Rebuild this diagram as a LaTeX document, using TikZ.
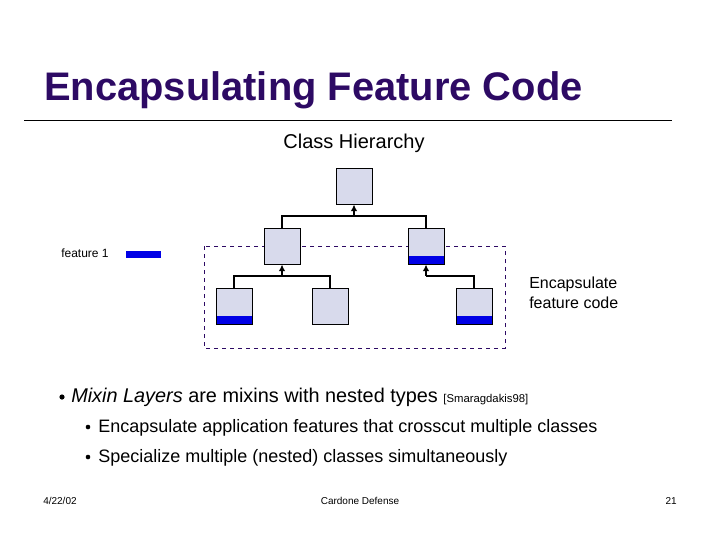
\documentclass[tikz,border=0pt]{standalone}
\usepackage{fontspec}
\setmainfont{Liberation Sans}
\usetikzlibrary{arrows.meta}
\definecolor{titlec}{RGB}{45,10,100}
\definecolor{boxc}{RGB}{216,218,236}
\definecolor{featc}{RGB}{0,0,230}
\begin{document}
\begin{tikzpicture}[x=0.75pt,y=-0.75pt,
  cls/.style={draw=black,fill=boxc,line width=0.75pt,minimum width=27pt,minimum height=27pt,inner sep=0pt},
  conn/.style={line width=2.2pt,-{Latex[length=5pt,width=5pt]}},
  txt/.style={inner sep=0pt,anchor=base west}]
\useasboundingbox (0,0) rectangle (720,540);
\node[txt,font=\fontsize{29.9}{34}\selectfont\bfseries,text=titlec] (title) at (44,100) {Encapsulating Feature Code};
\draw[line width=0.75pt] (24,120) -- (672,120);
\node[inner sep=0pt,anchor=base,font=\fontsize{15}{18}\selectfont] (ch) at (354,148) {Class Hierarchy};
% dashed layer
\draw[dashed,draw=titlec,line width=0.75pt] (204,246) rectangle (505,348);
% boxes
\node[cls] (top) at (354,186) {};
\node[cls] (ml) at (282,246) {};
\node[cls] (mr) at (426,246) {};
\node[cls] (b1) at (234,306) {};
\node[cls] (b2) at (330,306) {};
\node[cls] (b3) at (474,306) {};
\fill[featc] (408.5,256) rectangle (443.5,263.5);
\fill[featc] (216.5,316) rectangle (251.5,323.5);
\fill[featc] (456.5,316) rectangle (491.5,323.5);
% connectors
\draw[line width=2.2pt] (ml.north) |- (354,216) -| (mr.north);
\draw[conn] (354,216) -- (top.south);
\draw[line width=2.2pt] (b1.north) |- (282,276) -| (b2.north);
\draw[conn] (282,276) -- (ml.south);
\draw[line width=2.2pt] (b3.north) |- (426,276);
\draw[conn] (426,276) -- (mr.south);
% legend
\node[txt,font=\fontsize{9}{11}\selectfont] (f1) at (61,257) {feature 1};
\fill[featc] (126,251) rectangle (161,258);
\node[txt,font=\fontsize{12}{15}\selectfont,align=left,anchor=north west] (enc) at (529,277) {Encapsulate\\feature code};
% bullets
\fill (62,397) circle (2.6);
\node[txt,font=\fontsize{14.9}{17}\selectfont] (b1t) at (71,402) {\textit{Mixin Layers} are mixins with nested types {\fontsize{8.5}{10}\selectfont [Smaragdakis98]}};
\fill (88,427) circle (2.3);
\node[txt,font=\fontsize{13.5}{16}\selectfont] (s1) at (98,432) {Encapsulate application features that crosscut multiple classes};
\fill (88,457) circle (2.3);
\node[txt,font=\fontsize{13.5}{16}\selectfont] (s2) at (98,462) {Specialize multiple (nested) classes simultaneously};
% footer
\node[txt,font=\fontsize{7.5}{9}\selectfont] (d) at (43,504) {4/22/02};
\node[inner sep=0pt,anchor=base,font=\fontsize{7.5}{9}\selectfont] (cd) at (360,504) {Cardone Defense};
\node[inner sep=0pt,anchor=base east,font=\fontsize{7.5}{9}\selectfont] (pg) at (677,504) {21};
\end{tikzpicture}
\end{document}
